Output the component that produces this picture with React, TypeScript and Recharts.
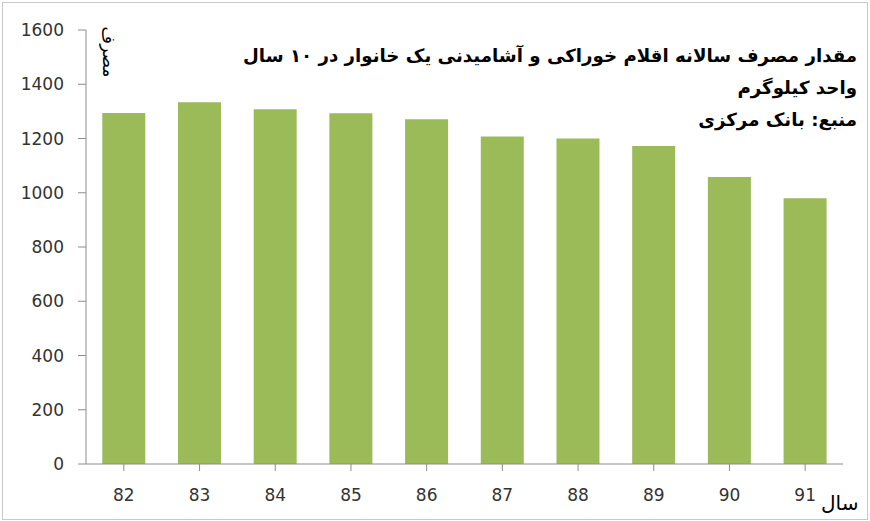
import React from "react";
import { BarChart, Bar, XAxis, YAxis } from "recharts";

const years = ["82", "83", "84", "85", "86", "87", "88", "89", "90", "91"];
const consumption = [1294, 1334, 1308, 1293, 1271, 1207, 1200, 1172, 1058, 980];
const yTicks = [0, 200, 400, 600, 800, 1000, 1200, 1400, 1600];
const titleLines = [
  "مقدار مصرف سالانه اقلام خوراکی و آشامیدنی یک خانوار در ۱۰ سال",
  "واحد کیلوگرم",
  "منبع: بانک مرکزی",
];

const data = years.map((y, i) => ({ year: y, value: consumption[i] }));

export default function App() {
  return (
    <div
      style={{
        position: "absolute",
        left: 0,
        top: 0,
        width: 870,
        height: 521,
        background: "#fff",
        fontFamily: "DejaVu Sans, sans-serif",
      }}
    >
      <div
        style={{
          position: "absolute",
          left: 2,
          top: 2,
          width: 864,
          height: 516,
          border: "1px solid #c8c8c8",
        }}
      />
      <BarChart
        width={870}
        height={521}
        data={data}
        margin={{ top: 30, right: 27, bottom: 0, left: 0 }}
        barCategoryGap="21.5%"
      >
        <XAxis
          dataKey="year"
          height={57}
          tickSize={7}
          tickMargin={18}
          axisLine={{ stroke: "#8c8c8c" }}
          tickLine={{ stroke: "#8c8c8c" }}
          tick={{ fill: "#333", fontSize: 17, fontFamily: "DejaVu Sans" }}
          interval={0}
        />
        <YAxis
          width={86}
          domain={[0, 1600]}
          ticks={yTicks}
          tickSize={8}
          tickMargin={14}
          axisLine={{ stroke: "#8c8c8c" }}
          tickLine={{ stroke: "#8c8c8c" }}
          tick={{ fill: "#333", fontSize: 17, fontFamily: "DejaVu Sans" }}
          interval={0}
        />
        <Bar dataKey="value" fill="#9bbb59" isAnimationActive={false} />
      </BarChart>
      <div
        style={{
          position: "absolute",
          right: 13,
          top: 40,
          direction: "rtl",
          textAlign: "right",
          fontWeight: "bold",
          fontSize: 18.2,
          lineHeight: "32px",
          color: "#000",
          whiteSpace: "nowrap",
        }}
      >
        {titleLines.map((l, i) => (
          <div key={i}>{l}</div>
        ))}
      </div>
      <div
        style={{
          position: "absolute",
          left: 84,
          top: 42,
          transform: "rotate(90deg)",
          transformOrigin: "center",
          fontSize: 17,
          color: "#000",
          direction: "rtl",
          whiteSpace: "nowrap",
        }}
      >
        مصرف
      </div>
      <div
        style={{
          position: "absolute",
          left: 821,
          top: 491,
          fontSize: 20,
          color: "#000",
          direction: "rtl",
          whiteSpace: "nowrap",
        }}
      >
        سال
      </div>
    </div>
  );
}
